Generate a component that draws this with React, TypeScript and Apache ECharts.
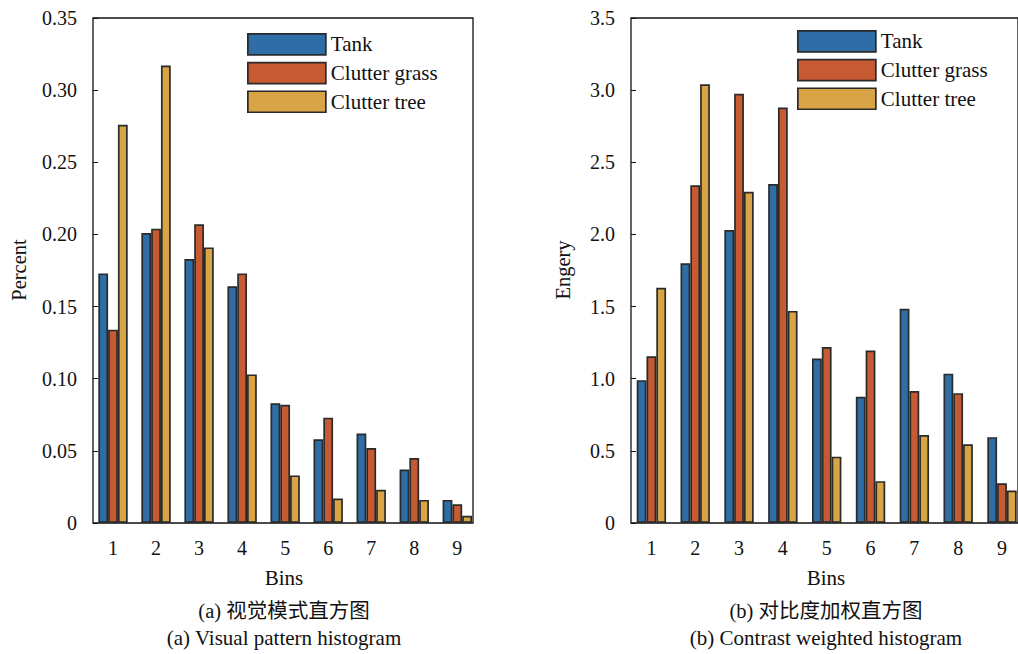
import React, { useEffect, useRef } from "react";
import * as echarts from "echarts";

const bins = [1, 2, 3, 4, 5, 6, 7, 8, 9];
const seriesNames = ["Tank", "Clutter grass", "Clutter tree"];
const colors = ["#2E6DA5", "#C65A33", "#D9A445"];

const tankPattern = [0.173, 0.201, 0.183, 0.164, 0.083, 0.058, 0.062, 0.037, 0.016];
const grassPattern = [0.134, 0.204, 0.207, 0.173, 0.082, 0.073, 0.052, 0.045, 0.013];
const treePattern = [0.276, 0.317, 0.191, 0.103, 0.033, 0.017, 0.023, 0.016, 0.005];

const tankContrast = [0.99, 1.8, 2.03, 2.35, 1.14, 0.875, 1.485, 1.035, 0.595];
const grassContrast = [1.155, 2.34, 2.975, 2.88, 1.22, 1.195, 0.915, 0.9, 0.275];
const treeContrast = [1.63, 3.04, 2.295, 1.47, 0.46, 0.29, 0.61, 0.545, 0.225];

const leftTicks = [0, 0.05, 0.1, 0.15, 0.2, 0.25, 0.3, 0.35];
const rightTicks = [0, 0.5, 1.0, 1.5, 2.0, 2.5, 3.0, 3.5];

const FONT = "'Liberation Serif', 'Times New Roman', serif";
const CJK = "'Liberation Serif', 'Noto Sans CJK SC', serif";

export default function App() {
  const ref = useRef<HTMLDivElement>(null);
  useEffect(() => {
    if (!ref.current) return;
    const chart = echarts.init(ref.current, undefined, { renderer: "svg" });

    const mkSeries = (vals: number[][], gi: number) =>
      vals.map((arr, si) => ({
        name: seriesNames[si],
        type: "bar",
        xAxisIndex: gi,
        yAxisIndex: gi,
        barWidth: 9.8,
        barGap: "0%",
        data: bins.map((b, i) => [b, arr[i]]),
        itemStyle: { color: colors[si], borderColor: "#2a2a2a", borderWidth: 1.7 },
      }));

    const xAxisCommon = (gi: number) => ({
      type: "value",
      gridIndex: gi,
      min: 0.535,
      max: 9.365,
      splitLine: { show: false },
      axisLine: { show: false },
      axisTick: { show: false },
      axisLabel: {
        customValues: bins,
        margin: 15,
        fontFamily: FONT,
        fontSize: 20,
        color: "#111",
        formatter: (v: number) => String(v),
      },
    });

    const yAxisCommon = (gi: number, max: number, interval: number, ticks: number[], dec: number) => ({
      type: "value",
      gridIndex: gi,
      min: 0,
      max,
      interval,
      splitLine: { show: false },
      axisLine: { show: false },
      axisTick: { show: true, inside: true, length: 5, lineStyle: { color: "#111", width: 1 }, customValues: ticks },
      axisLabel: {
        margin: 16,
        fontFamily: FONT,
        fontSize: 20,
        color: "#111",
        formatter: (v: number) => (v === 0 ? "0" : v.toFixed(dec)),
      },
    });

    const legendCommon = {
      orient: "vertical",
      data: seriesNames,
      icon: "rect",
      itemWidth: 78,
      itemHeight: 21,
      itemGap: 6,
      textStyle: { fontFamily: FONT, fontSize: 21, color: "#111", lineHeight: 22 },
      itemStyle: { borderColor: "#2a2a2a", borderWidth: 1.7 },
      selectedMode: false,
    };

    const txt = (x: number, y: number, text: string, size: number, font = FONT, extra: any = {}) => ({
      type: "text",
      x,
      y,
      style: {
        text,
        fontFamily: font,
        fontSize: size,
        fill: "#111",
        align: "center",
        verticalAlign: "middle",
      },
      ...extra,
    });

    chart.setOption({
      animation: false,
      backgroundColor: "#fff",
      grid: [
        { left: 93, top: 18, width: 380, height: 505, show: true, borderColor: "#111", borderWidth: 1.3, backgroundColor: "transparent" },
        { left: 631, top: 18, width: 387, height: 505, show: true, borderColor: "#111", borderWidth: 1.3, backgroundColor: "transparent" },
      ],
      xAxis: [xAxisCommon(0), xAxisCommon(1)],
      yAxis: [yAxisCommon(0, 0.35, 0.05, leftTicks, 2), yAxisCommon(1, 3.5, 0.5, rightTicks, 1)],
      legend: [
        { ...legendCommon, left: 242, top: 28 },
        { ...legendCommon, left: 792, top: 25 },
      ],
      series: [
        ...mkSeries([tankPattern, grassPattern, treePattern], 0),
        ...mkSeries([tankContrast, grassContrast, treeContrast], 1),
      ],
      graphic: [
        txt(19, 270, "Percent", 20.5, FONT, { rotation: Math.PI / 2 }),
        txt(563, 270, "Engery", 20.5, FONT, { rotation: Math.PI / 2 }),
        txt(284, 578, "Bins", 21),
        txt(826, 578, "Bins", 21),
        txt(284, 611, "(a) 视觉模式直方图", 20.5, CJK),
        txt(284, 638, "(a) Visual pattern histogram", 21),
        txt(826, 611, "(b) 对比度加权直方图", 20.5, CJK),
        txt(826, 638, "(b) Contrast weighted histogram", 21),
      ],
    });
    return () => chart.dispose();
  }, []);
  return <div ref={ref} style={{ position: "absolute", left: 0, top: 0, width: 1018, height: 654 }} />;
}
